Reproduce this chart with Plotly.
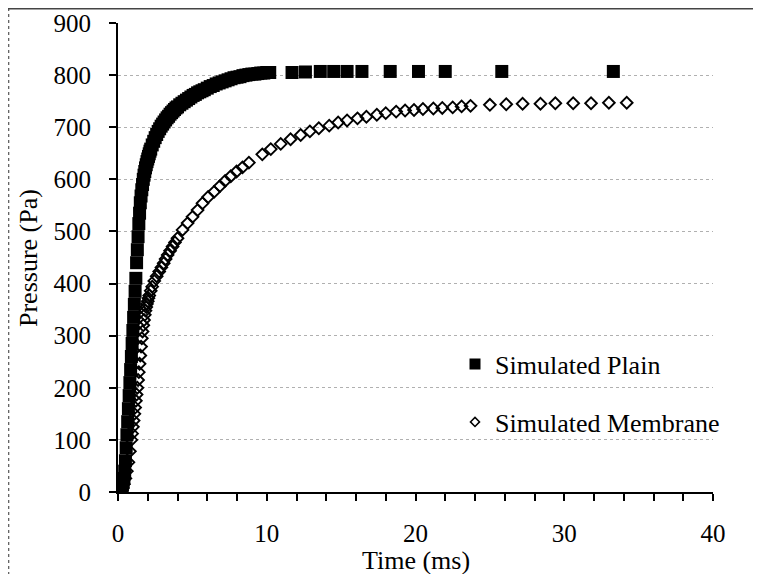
import plotly.graph_objects as go

# ---- data ----
plain_t = [0, 0.05, 0.1, 0.15, 0.2, 0.25, 0.3, 0.35, 0.4, 0.45, 0.5,
           0.55, 0.6, 0.65, 0.7, 0.75, 0.8, 0.85, 0.9, 0.95, 1.0,
           1.05, 1.1, 1.15, 1.2, 1.25, 1.3, 1.35, 1.4, 1.45, 1.5,
           1.55, 1.6, 1.65, 1.7, 1.75, 1.8, 1.85, 1.9, 1.95, 2.0,
           2.05, 2.1, 2.15, 2.2, 2.3, 2.4, 2.5, 2.6, 2.7, 2.8,
           2.9, 3.0, 3.1, 3.2, 3.3, 3.4, 3.5, 3.6, 3.7, 3.8,
           3.9, 4.0, 4.15, 4.3, 4.45, 4.6, 4.75, 4.9, 5.05, 5.2,
           5.35, 5.5, 5.65, 5.8, 6.0, 6.2, 6.4, 6.6, 6.8, 7.0,
           7.2, 7.4, 7.6, 7.8, 8.0, 8.2, 8.4, 8.6, 8.8, 9.0,
           9.2, 9.4, 9.6, 9.8, 10.0, 10.2,
           11.7, 12.6, 13.6, 14.5, 15.4, 16.4, 18.3, 20.2, 22.0, 25.8, 33.3]
plain_p = [0, 1, 2, 4, 6, 9, 13, 18, 26, 40, 60,
           85, 110, 135, 160, 185, 210, 235, 260, 285, 310,
           335, 360, 385, 410, 440, 465, 490, 515, 535, 555,
           568, 580, 590, 600, 608, 615, 622, 628, 634, 639,
           644, 649, 654, 658, 666, 673, 680, 686, 692, 697,
           702, 706, 710, 714, 718, 721, 725, 728, 731, 734,
           737, 739, 743, 746, 749, 752, 755, 758, 761, 763,
           766, 768, 770, 772, 775, 778, 780, 783, 785, 787,
           789, 791, 793, 795, 796, 797, 799, 800, 801, 802,
           802, 803, 804, 804, 805, 805,
           805, 806, 807, 807, 807, 807, 807, 807, 807, 807, 807]

mem_t = [0, 0.1, 0.2, 0.3, 0.4, 0.5, 0.6, 0.7, 0.8, 0.9,
         0.95, 1.0, 1.05, 1.1, 1.15, 1.2, 1.25, 1.3, 1.35, 1.4,
         1.45, 1.5, 1.55, 1.6, 1.65, 1.7, 1.75, 1.8, 1.85, 1.9,
         1.95, 2.0, 2.05, 2.1, 2.2, 2.3, 2.44, 2.6, 2.77, 2.92,
         3.07, 3.2, 3.34, 3.5, 3.67, 3.83, 4.0,
         4.34, 4.68, 5.01, 5.35, 5.68, 6.06, 6.46, 6.85, 7.2, 7.58, 7.97, 8.37, 8.8,
         9.7, 10.27, 10.94, 11.6, 12.28, 12.9,
         13.5, 14.2, 14.8, 15.4, 16.1, 16.7, 17.4, 18.0, 18.7, 19.3, 19.9, 20.5, 21.2, 21.8, 22.5, 23.1, 23.7,
         25.0, 26.1, 27.2, 28.4, 29.4, 30.6, 31.8, 33.0, 34.2]
mem_p = [0, 2, 5, 8, 15, 26, 40, 57, 78, 100,
         112, 125, 137, 150, 162, 175, 187, 200, 215, 230,
         246, 262, 279, 295, 308, 320, 330, 340, 348, 355,
         361, 366, 372, 377, 386, 394, 405, 414, 423, 431,
         439, 447, 455, 463, 471, 479, 487,
         503, 516, 528, 541, 554, 566, 576, 587, 597, 606, 615, 623, 632,
         648, 658, 668, 677, 685, 692,
         698, 703, 709, 713, 717, 720, 724, 727, 730, 732, 733, 735, 736, 737, 738, 740, 741,
         743, 744, 745, 745, 746, 746, 746, 747, 747]

y_ticks = [0, 100, 200, 300, 400, 500, 600, 700, 800, 900]
x_ticks = [0, 10, 20, 30, 40]

series_names = ["Simulated Plain", "Simulated Membrane"]
x_title = "Time (ms)"
y_title = "Pressure (Pa)"

FONT = "Liberation Serif, Times New Roman, serif"

fig = go.Figure()

fig.add_trace(go.Scatter(
    x=plain_t, y=plain_p, mode="markers", showlegend=False,
    marker=dict(symbol="square", size=13, color="black", line=dict(width=0)),
))
fig.add_trace(go.Scatter(
    x=mem_t, y=mem_p, mode="markers", showlegend=False,
    marker=dict(symbol="diamond-open", size=9, color="black", line=dict(width=1.9, color="black")),
))
# legend keys
fig.add_trace(go.Scatter(
    x=[None], y=[None], mode="markers", name=series_names[0], legend="legend",
    marker=dict(symbol="square", size=11, color="black"),
))
fig.add_trace(go.Scatter(
    x=[None], y=[None], mode="markers", name=series_names[1], legend="legend2",
    marker=dict(symbol="diamond-open", size=7, color="black", line=dict(width=1.5, color="black")),
))

# figure coordinates (the page adds an 8 px body margin)
W, H = 761, 574
L, T = 110, 15
PR, PB = 705, 484          # plot right / bottom edges
R, B = W - PR, H - PB
pw, ph = PR - L, PB - T

def px_to_paper_x(px):
    return (px - L) / pw

def px_to_paper_y(py):
    return (PB - py) / ph

fig.update_layout(
    width=W, height=H,
    margin=dict(l=L, r=R, t=T, b=B, autoexpand=False),
    paper_bgcolor="white", plot_bgcolor="white",
    font=dict(family=FONT, size=25, color="black"),
    xaxis=dict(
        range=[0, 40], tickvals=x_ticks, ticktext=[str(v) for v in x_ticks],
        showline=True, linecolor="black", linewidth=2,
        ticks="outside", ticklen=7, tickwidth=1.5, tickcolor="black",
        ticklabelstandoff=11, automargin=False,
        minor=dict(ticks="outside", dtick=2, ticklen=7, tickwidth=1.5, tickcolor="black", showgrid=False),
        showgrid=False, zeroline=False,
        tickfont=dict(family=FONT, size=25),
    ),
    yaxis=dict(
        range=[0, 900], tickvals=y_ticks, ticktext=[str(v) for v in y_ticks],
        showline=True, linecolor="black", linewidth=2,
        ticks="outside", ticklen=7, tickwidth=1.5, tickcolor="black",
        ticklabelstandoff=13, automargin=False,
        showgrid=True, gridcolor="#b0b0b0", griddash="dot", gridwidth=1,
        zeroline=False,
        tickfont=dict(family=FONT, size=25),
    ),
    legend=dict(
        xref="container", yref="container",
        x=447 / W, y=1 - 356 / H, xanchor="left", yanchor="middle",
        bgcolor="rgba(0,0,0,0)", borderwidth=0,
        font=dict(family=FONT, size=26), itemsizing="trace",
    ),
    legend2=dict(
        xref="container", yref="container",
        x=447 / W, y=1 - 414 / H, xanchor="left", yanchor="middle",
        bgcolor="rgba(0,0,0,0)", borderwidth=0,
        font=dict(family=FONT, size=26), itemsizing="trace",
    ),
    annotations=[
        dict(text=x_title, xref="paper", yref="paper", x=0.5, y=px_to_paper_y(552),
             xanchor="center", yanchor="middle", showarrow=False,
             font=dict(family=FONT, size=26)),
        dict(text=y_title, xref="paper", yref="paper", x=px_to_paper_x(20), y=px_to_paper_y(250),
             xanchor="center", yanchor="middle", textangle=-90, showarrow=False,
             font=dict(family=FONT, size=26)),
    ],
    shapes=[
        dict(type="line", xref="paper", yref="paper",
             x0=px_to_paper_x(0.7), x1=px_to_paper_x(0.7), y0=px_to_paper_y(0), y1=px_to_paper_y(574),
             line=dict(color="#555", width=1.2, dash="dot")),
        dict(type="line", xref="paper", yref="paper",
             x0=px_to_paper_x(0), x1=px_to_paper_x(761), y0=px_to_paper_y(0.7), y1=px_to_paper_y(0.7),
             line=dict(color="#444", width=1.4)),
    ],
)

fig.write_html("out.html")
